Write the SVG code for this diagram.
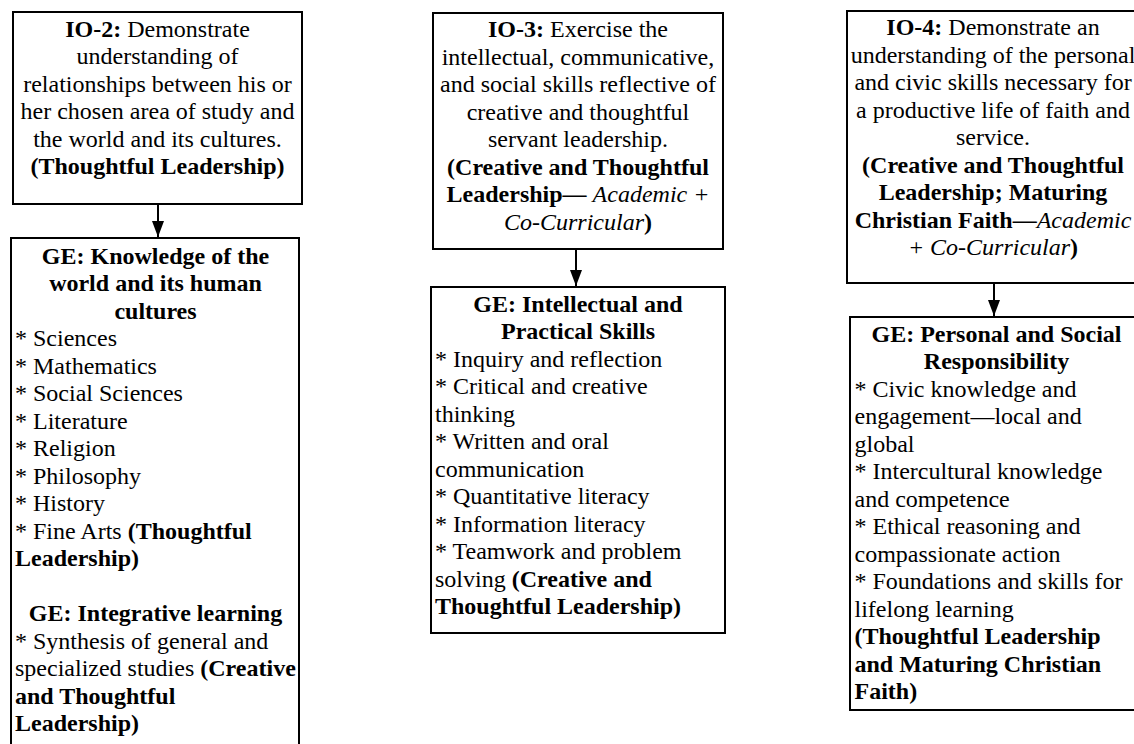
<svg xmlns="http://www.w3.org/2000/svg" width="1134" height="744" viewBox="0 0 1134 744" font-family="Liberation Serif, Times New Roman, DejaVu Serif, serif">
<style>
.box{fill:#fff;stroke:#000;stroke-width:2}
text{font-family:'Liberation Serif','Times New Roman','DejaVu Serif',serif;font-size:24px;fill:#000}
.c{text-anchor:middle}
.b{font-weight:bold}
.i{font-style:italic}
.conn{stroke:#000;stroke-width:2;fill:none}
</style>
<defs>
<marker id="ah" markerUnits="userSpaceOnUse" markerWidth="16" markerHeight="12" refX="16" refY="6" orient="auto">
<path d="M0,0 L16,6 L0,12 z" fill="#000"/>
</marker>
</defs>
<rect width="1134" height="744" fill="#fff"/>

<g id="connectors">
<line class="conn" x1="158" y1="204" x2="158" y2="237" marker-end="url(#ah)"/>
<line class="conn" x1="576" y1="249" x2="576" y2="286" marker-end="url(#ah)"/>
<line class="conn" x1="994" y1="283" x2="994" y2="316" marker-end="url(#ah)"/>
</g>

<g id="io2">
<rect class="box" x="13" y="12" width="289" height="192"/>
<text class="c" x="157.5" y="36.7"><tspan class="b">IO-2:</tspan> Demonstrate</text>
<text class="c" x="157.5" y="64.2">understanding of</text>
<text class="c" x="157.5" y="91.7">relationships between his or</text>
<text class="c" x="157.5" y="119.2">her chosen area of study and</text>
<text class="c" x="157.5" y="146.7">the world and its cultures.</text>
<text class="c b" x="157.5" y="174.2">(Thoughtful Leadership)</text>
</g>

<g id="ge-knowledge">
<rect class="box" x="11" y="238" width="288" height="530"/>
<text class="c b" x="155.5" y="263.5">GE: Knowledge of the</text>
<text class="c b" x="155.5" y="291">world and its human</text>
<text class="c b" x="155.5" y="318.5">cultures</text>
<text x="15" y="346">* Sciences</text>
<text x="15" y="373.5">* Mathematics</text>
<text x="15" y="401">* Social Sciences</text>
<text x="15" y="428.5">* Literature</text>
<text x="15" y="456">* Religion</text>
<text x="15" y="483.5">* Philosophy</text>
<text x="15" y="511">* History</text>
<text x="15" y="538.5">* Fine Arts <tspan class="b">(Thoughtful</tspan></text>
<text class="b" x="15" y="566">Leadership)</text>
<text class="c b" x="155.5" y="621">GE: Integrative learning</text>
<text x="15" y="648.5">* Synthesis of general and</text>
<text x="15" y="676">specialized studies <tspan class="b">(Creative</tspan></text>
<text class="b" x="15" y="703.5">and Thoughtful</text>
<text class="b" x="15" y="731">Leadership)</text>
</g>

<g id="io3">
<rect class="box" x="433" y="13" width="290" height="236"/>
<text class="c" x="578" y="37.3"><tspan class="b">IO-3:</tspan> Exercise the</text>
<text class="c" x="578" y="64.8">intellectual, communicative,</text>
<text class="c" x="578" y="92.3">and social skills reflective of</text>
<text class="c" x="578" y="119.8">creative and thoughtful</text>
<text class="c" x="578" y="147.3">servant leadership.</text>
<text class="c b" x="578" y="174.8">(Creative and Thoughtful</text>
<text class="c" x="578" y="202.3"><tspan class="b">Leadership—</tspan> <tspan class="i">Academic +</tspan></text>
<text class="c" x="578" y="229.8"><tspan class="i">Co-Curricular</tspan><tspan class="b">)</tspan></text>
</g>

<g id="ge-intellectual">
<rect class="box" x="431" y="287" width="294" height="346"/>
<text class="c b" x="578" y="311.7">GE: Intellectual and</text>
<text class="c b" x="578" y="339.2">Practical Skills</text>
<text x="435" y="366.7">* Inquiry and reflection</text>
<text x="435" y="394.2">* Critical and creative</text>
<text x="435" y="421.7">thinking</text>
<text x="435" y="449.2">* Written and oral</text>
<text x="435" y="476.7">communication</text>
<text x="435" y="504.2">* Quantitative literacy</text>
<text x="435" y="531.7">* Information literacy</text>
<text x="435" y="559.2">* Teamwork and problem</text>
<text x="435" y="586.7">solving <tspan class="b">(Creative and</tspan></text>
<text class="b" x="435" y="614.2">Thoughtful Leadership)</text>
</g>

<g id="io4">
<rect class="box" x="847" y="11" width="292" height="272"/>
<text class="c" x="993" y="35"><tspan class="b">IO-4:</tspan> Demonstrate an</text>
<text class="c" x="993" y="62.5">understanding of the personal</text>
<text class="c" x="993" y="90">and civic skills necessary for</text>
<text class="c" x="993" y="117.5">a productive life of faith and</text>
<text class="c" x="993" y="145">service.</text>
<text class="c b" x="993" y="172.5">(Creative and Thoughtful</text>
<text class="c b" x="993" y="200">Leadership; Maturing</text>
<text class="c" x="993" y="227.5"><tspan class="b">Christian Faith—</tspan><tspan class="i">Academic</tspan></text>
<text class="c" x="993" y="255"><tspan class="i">+ Co-Curricular</tspan><tspan class="b">)</tspan></text>
</g>

<g id="ge-personal">
<rect class="box" x="850" y="317" width="293" height="393"/>
<text class="c b" x="996.5" y="341.7">GE: Personal and Social</text>
<text class="c b" x="996.5" y="369.2">Responsibility</text>
<text x="854.5" y="396.7">* Civic knowledge and</text>
<text x="854.5" y="424.2">engagement—local and</text>
<text x="854.5" y="451.7">global</text>
<text x="854.5" y="479.2">* Intercultural knowledge</text>
<text x="854.5" y="506.7">and competence</text>
<text x="854.5" y="534.2">* Ethical reasoning and</text>
<text x="854.5" y="561.7">compassionate action</text>
<text x="854.5" y="589.2">* Foundations and skills for</text>
<text x="854.5" y="616.7">lifelong learning</text>
<text class="b" x="854.5" y="644.2">(Thoughtful Leadership</text>
<text class="b" x="854.5" y="671.7">and Maturing Christian</text>
<text class="b" x="854.5" y="699.2">Faith)</text>
</g>
</svg>
